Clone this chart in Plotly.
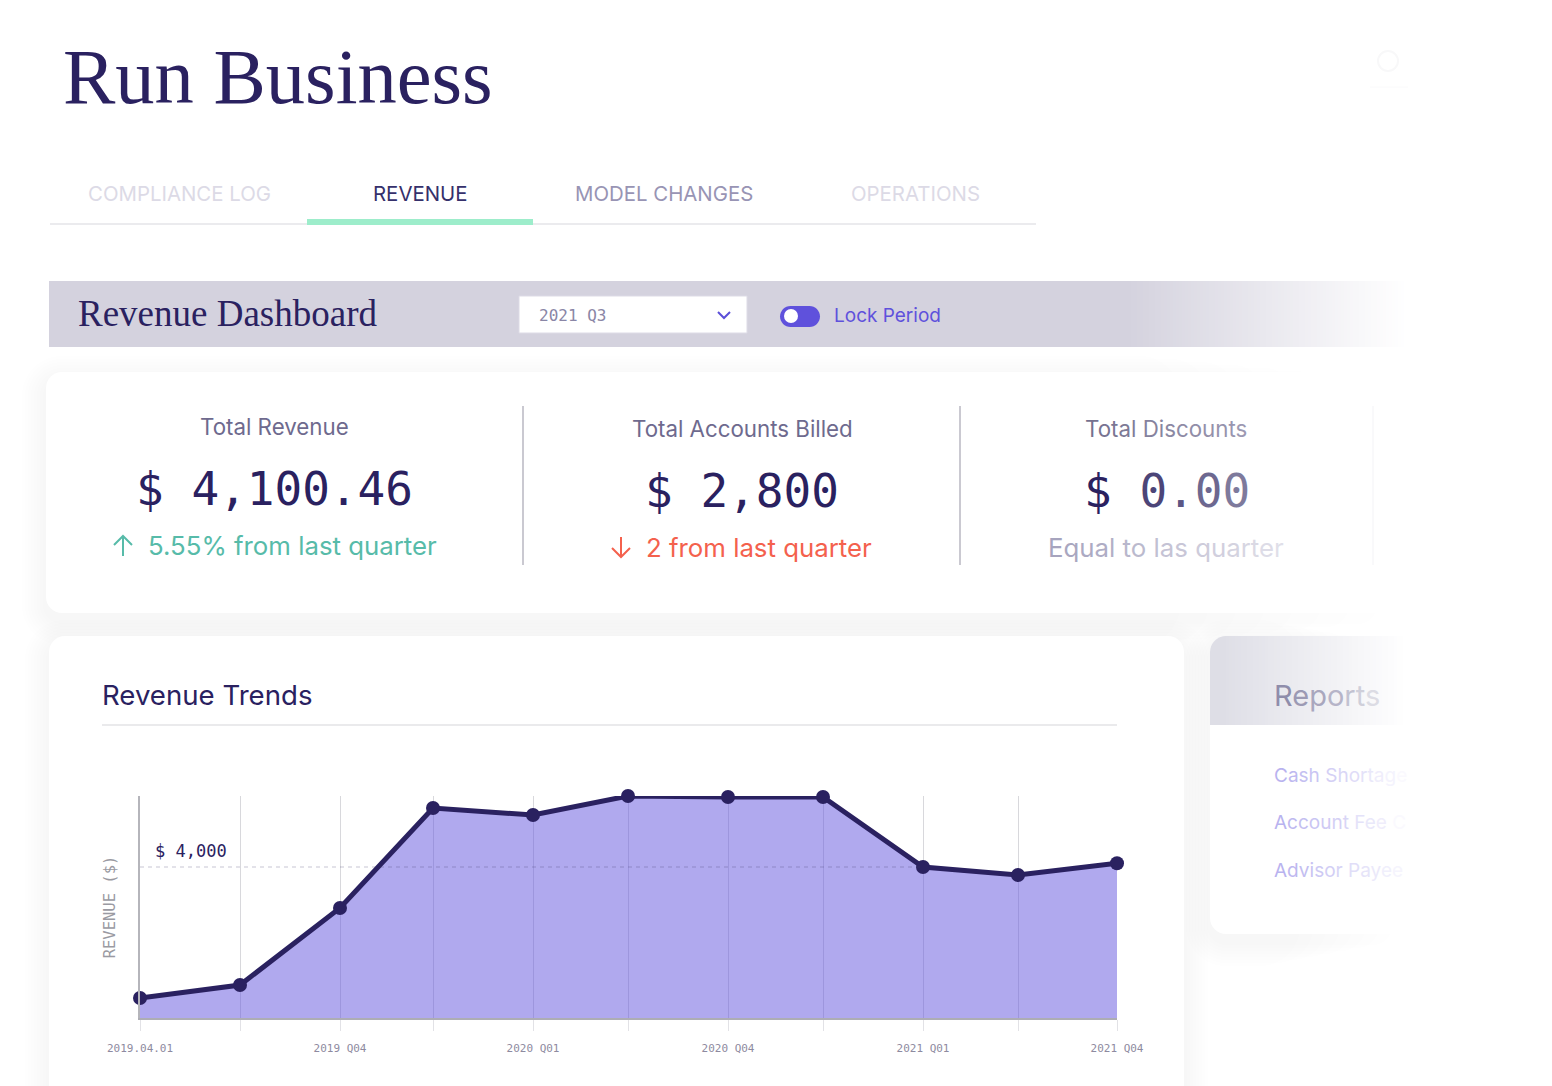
import plotly.graph_objects as go

W = 1552
H = 1086

# chart data
period_days = [0, 100, 200, 293, 393, 488, 588, 683, 783, 878, 977]
revenue = [530, 874, 2914, 5563, 5378, 5881, 5854, 5854, 4000, 3788, 4100]
tick_labels = ["2019.04.01", "", "2019 Q04", "", "2020 Q01", "", "2020 Q04", "", "2021 Q01", "", "2021 Q04"]
target_days = [0, 783]
target_revenue = [4000, 4000]

tab_names = ["COMPLIANCE LOG", "REVENUE", "MODEL CHANGES", "OPERATIONS"]
kpi_names = ["Total Revenue", "Total Accounts Billed", "Total Discounts"]
kpi_values = ["$ 4,100.46", "$ 2,800", "$ 0.00"]
kpi_notes = ["5.55% from last quarter", "2 from last quarter", "Equal to las quarter"]
report_names = ["Cash Shortages", "Account Fee Co", "Advisor Payee R"]

NAVY = "#2A2160"
SANS = "Inter"
SERIF = "Liberation Serif"
MONO = "DejaVu Sans Mono"


def px(x):
    return x / W


def py(y):
    return 1 - y / H


def rgb(c):
    return tuple(int(c[i:i + 2], 16) for i in (1, 3, 5))


def mix(a, b, t):
    a, b = rgb(a), rgb(b)
    return "#%02X%02X%02X" % tuple(round(a[i] + (b[i] - a[i]) * t) for i in range(3))


def fade(text, start, end):
    # one colour per letter, that is how the text dissolves on the right
    out = []
    for i, ch in enumerate(text):
        t = i / max(len(text) - 1, 1)
        out.append('<span style="color:%s">%s</span>' % (mix(start, end, t), ch))
    return "".join(out)


shapes = []
notes = []


def label(x, y, text, size, color=NAVY, family=SANS, anchor="left", **kw):
    # annotations carry a little padding, take it off so x,y are where the glyphs start
    if anchor == "left":
        x -= 2.5
    if family != MONO:
        y -= 1
    notes.append(dict(x=px(x), y=py(y), xref="paper", yref="paper", text=text, showarrow=False,
                      xanchor=anchor, yanchor="middle", font=dict(size=size, color=color, family=family), **kw))


def rect(x0, y0, x1, y1, color, layer="below"):
    shapes.append(dict(type="rect", xref="paper", yref="paper", x0=px(x0), x1=px(x1), y0=py(y0), y1=py(y1),
                       fillcolor=color, line_width=0, layer=layer))


def line(x0, y0, x1, y1, color, width=1):
    shapes.append(dict(type="line", xref="paper", yref="paper", x0=px(x0), x1=px(x1), y0=py(y0), y1=py(y1),
                       line=dict(color=color, width=width), layer="below"))


def poly(points, color, width=2):
    path = "M " + " L ".join("%.5f,%.5f" % (px(a), py(b)) for a, b in points)
    shapes.append(dict(type="path", xref="paper", yref="paper", path=path,
                       line=dict(color=color, width=width), layer="below"))


def round_rect(x0, y0, x1, y1, r, color, border=None, round_right=True, round_bottom=True):
    k = 0.55 * r

    def c(a, b):
        return "%.5f,%.5f" % (px(a), py(b))
    p = "M " + c(x0 + r, y0)
    if round_right:
        p += " L " + c(x1 - r, y0) + " C " + c(x1 - r + k, y0) + " " + c(x1, y0 + r - k) + " " + c(x1, y0 + r)
    else:
        p += " L " + c(x1, y0)
    if round_right and round_bottom:
        p += " L " + c(x1, y1 - r) + " C " + c(x1, y1 - r + k) + " " + c(x1 - r + k, y1) + " " + c(x1 - r, y1)
    else:
        p += " L " + c(x1, y1)
    if round_bottom:
        p += " L " + c(x0 + r, y1) + " C " + c(x0 + r - k, y1) + " " + c(x0, y1 - r + k) + " " + c(x0, y1 - r)
    else:
        p += " L " + c(x0, y1)
    p += " L " + c(x0, y0 + r) + " C " + c(x0, y0 + r - k) + " " + c(x0 + r - k, y0) + " " + c(x0 + r, y0) + " Z"
    shapes.append(dict(type="path", xref="paper", yref="paper", path=p, fillcolor=color,
                       line=dict(width=1 if border else 0, color=border or color), layer="below"))


def shadow(x0, y0, x1, y1, r, fade_to=None):
    for i in range(8, 0, -1):
        s = i * 3
        right = x1 + s if fade_to is None else x1 + (fade_to - x1) * (8 - i) / 8
        round_rect(x0 - s, y0 - s + 8, right, y1 + s + 8, r + s, "rgba(70,70,80,0.009)")


def strips(x0, x1, y0, y1, start, end="#FFFFFF", step=3):
    x = x0
    while x < x1:
        rect(x, y0, x + step + 0.5, y1, mix(start, end, (x - x0) / (x1 - x0)))
        x += step


# top
label(63, 77, "Run Business", 78.5, family=SERIF)
shapes.append(dict(type="circle", xref="paper", yref="paper", x0=px(1378), x1=px(1398), y0=py(71), y1=py(51),
                   line=dict(color="#F8F8F9", width=2), layer="below"))
line(1370, 87, 1408, 87, "#FAFAFB", 1)

# tabs
line(50, 224, 1036, 224, "#EBEBEE", 2)
rect(307, 219, 533, 225, "#9DEDCB")
tab_x = [179, 421, 664, 915]
tab_colors = ["#DCDAE6", "#35306B", "#9894B4", "#DCDAE6"]
for name, x, col in zip(tab_names, tab_x, tab_colors):
    label(x, 194, name, 20.4, col, anchor="center")

# dashboard bar
rect(49, 281, 1125, 347, "#D4D2DE")
strips(1125, 1405, 281, 347, "#D4D2DE")
label(78, 314.5, "Revenue Dashboard", 37, family=SERIF)
rect(519, 296, 747, 333, "#FFFFFF")
line(519, 296, 747, 296, "#DDDBE6", 1)
line(519, 333, 747, 333, "#DDDBE6", 1)
line(519, 296, 519, 333, "#DDDBE6", 1)
line(747, 296, 747, 333, "#DDDBE6", 1)
label(539, 316, "2021 Q3", 16, "#8A86A6", MONO)
poly([(718, 312), (724, 318), (730, 312)], "#5B4FD8")
round_rect(780, 306, 820, 327, 10.5, "#5F51DC")
shapes.append(dict(type="circle", xref="paper", yref="paper", x0=px(784), x1=px(798), y0=py(323), y1=py(309),
                   fillcolor="#FFFFFF", line_width=0, layer="below"))
label(834, 316, "Lock Period", 19, "#5F51DC")

# kpi card
shadow(46, 372, 1180, 613, 16, fade_to=1405)
round_rect(46, 372, 1420, 613, 16, "#FFFFFF", round_right=False)
line(523, 406, 523, 565, "#B8B7C2", 1.5)
line(960, 406, 960, 565, "#B8B7C2", 1.5)
line(1373, 406, 1373, 565, "#F3F3F6", 1)

label(274, 427, kpi_names[0], 22.3, "#6E6A8E", anchor="center")
label(742, 429, kpi_names[1], 22.3, "#6E6A8E", anchor="center")
label(1166, 429, fade(kpi_names[2], "#75718F", "#9C99B2"), 22.3, anchor="center")
label(274, 489, kpi_values[0], 46, family=MONO, anchor="center")
label(742, 491, kpi_values[1], 46, family=MONO, anchor="center")
label(1167, 491, fade(kpi_values[2], NAVY, "#7E7A9C"), 46, family=MONO, anchor="center")
label(148, 546, kpi_notes[0], 25.8, "#57BBA9")
label(646, 548, kpi_notes[1], 25.8, "#F4614D")
label(1166, 548, fade(kpi_notes[2], "#A6A4BE", "#E0DFE9"), 25.8, anchor="center")
poly([(123, 556), (123, 536)], "#57BBA9")
poly([(114, 545), (123, 536), (132, 545)], "#57BBA9")
poly([(621, 537), (621, 557)], "#F4614D")
poly([(612, 548), (621, 557), (630, 548)], "#F4614D")

# reports card
shadow(1210, 636, 1300, 934, 16, fade_to=1405)
round_rect(1210, 636, 1420, 934, 16, "#FFFFFF", round_right=False)
round_rect(1210, 636, 1240, 725, 16, "#DEDEE6", round_right=False, round_bottom=False)
strips(1226, 1405, 636, 725, "#DFDFE7")
label(1274, 696, fade("Reports", "#8F8DAB", "#DCDCE4"), 29)
for name, y in zip(report_names, [776, 823, 871]):
    label(1274, y, fade(name, "#B9B3EF", "#FFFFFF"), 19)

# trends card
shadow(49, 636, 1184, 1110, 16)
round_rect(49, 636, 1184, 1110, 16, "#FFFFFF")
label(102, 696, "Revenue Trends", 27.6)
line(102, 725, 1117, 725, "#E3E3E6", 1.5)
label(155, 851, "$ 4,000", 17, family=MONO)

fig = go.Figure()
fig.add_trace(go.Scatter(
    x=period_days, y=revenue, mode="lines+markers", fill="tozeroy",
    fillcolor="rgba(97,84,221,0.5)", cliponaxis=False,
    line=dict(color=NAVY, width=5), marker=dict(color=NAVY, size=14), hoverinfo="skip",
))
# dashed $4,000 guide, stops at the point where revenue falls back to it
fig.add_trace(go.Scatter(
    x=target_days, y=target_revenue, mode="lines", hoverinfo="skip",
    line=dict(color="rgba(70,60,110,0.3)", width=1, dash="4px,4px"),
))
fig.update_layout(
    width=W, height=H, margin=dict(l=0, r=0, t=0, b=0), showlegend=False,
    paper_bgcolor="#FFFFFF", plot_bgcolor="rgba(0,0,0,0)",
    shapes=shapes, annotations=notes,
    xaxis=dict(
        domain=[px(140), px(1117)], range=[0, 977], tickmode="array", tickvals=period_days, ticktext=tick_labels,
        automargin=False,
        showgrid=True, gridcolor="#D8D8DC", gridwidth=1, zeroline=False,
        showline=True, linecolor="#ADADB4", linewidth=2,
        ticks="outside", ticklen=11, tickcolor="#E2E2E6", tickwidth=1, ticklabelstandoff=8,
        tickfont=dict(family=MONO, size=11, color="#8E8AA0"), tickangle=0,
    ),
    yaxis=dict(
        domain=[py(1018), py(796)], range=[0, 5881], tickmode="array", tickvals=[], showticklabels=False,
        automargin=False, showgrid=False, zeroline=False,
        showline=True, linecolor="#B5B5BB", linewidth=2, ticks="",
        title=dict(text="REVENUE ($)", standoff=19, font=dict(family=MONO, size=15.5, color="#9A9AA2")),
    ),
)

fig.write_html("out.html", config=dict(displayModeBar=False),
               post_script="document.body.style.margin='0';")
